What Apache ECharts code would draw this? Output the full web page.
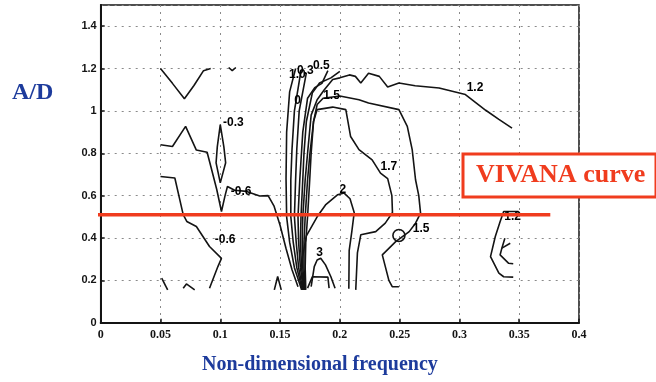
<!DOCTYPE html>
<html>
<head>
<meta charset="utf-8">
<script src="https://cdn.jsdelivr.net/npm/echarts@6/dist/echarts.min.js"></script>
<style>
  html, body { margin: 0; padding: 0; background: #fff; }
  #chart { width: 656px; height: 382px; }
</style>
</head>
<body>
<div id="chart"></div>
<script>
// Axis ranges and tick spacing
const xRange = [0, 0.4];
const xStep = 0.05;
const yRange = [0, 1.5];
const yStep = 0.2;

// Contour lines of the lift coefficient, as [frequency, A/D] pairs
const cTopLeftV = [[0.05,1.2],[0.06,1.13],[0.07,1.057],[0.078,1.12],[0.086,1.19],[0.092,1.2]];
const cTopTick = [[0.107,1.205],[0.11,1.19],[0.113,1.205]];
const cMinus03 = [[0.05,0.84],[0.06,0.832],[0.071,0.927],[0.08,0.815],[0.089,0.805],[0.092,0.74],[0.097,0.63],[0.101,0.525],[0.104,0.6],[0.106,0.643],[0.112,0.625],[0.122,0.62],[0.133,0.598],[0.14,0.6],[0.145,0.55],[0.15,0.46],[0.155,0.35],[0.16,0.25],[0.165,0.17]];
const cSpindle = [[0.1,0.935],[0.0975,0.83],[0.0965,0.755],[0.1,0.66],[0.1045,0.755],[0.103,0.83],[0.1,0.935]];
const cMinus06 = [[0.05,0.69],[0.062,0.683],[0.069,0.51],[0.072,0.478],[0.08,0.454],[0.091,0.36],[0.101,0.304],[0.098,0.265],[0.091,0.163]];
const cTickA = [[0.051,0.21],[0.056,0.155]];
const cTickB = [[0.069,0.163],[0.0717,0.183],[0.0786,0.155]];
const cTickC = [[0.1452,0.155],[0.148,0.218],[0.151,0.155]];
const cBand1 = [[0.163,1.2],[0.158,1.09],[0.1555,0.9],[0.155,0.68],[0.1555,0.5],[0.158,0.38],[0.162,0.26],[0.168,0.155]];
const cBand2 = [[0.1675,1.19],[0.162,1.0],[0.16,0.82],[0.159,0.675],[0.159,0.5],[0.161,0.38],[0.164,0.26],[0.1685,0.155]];
const cBand3 = [[0.172,1.18],[0.166,1.0],[0.164,0.82],[0.163,0.675],[0.162,0.5],[0.1635,0.38],[0.1655,0.26],[0.169,0.155]];
const cBand05 = [[0.19,1.19],[0.185,1.13],[0.179,1.11],[0.173,1.06],[0.169,0.9],[0.1665,0.675],[0.165,0.5],[0.1655,0.38],[0.167,0.26],[0.1695,0.155]];
const cBand5 = [[0.2,1.187],[0.1925,1.156],[0.183,1.132],[0.177,1.085],[0.172,0.95],[0.17,0.8],[0.169,0.675],[0.1675,0.5],[0.167,0.38],[0.168,0.26],[0.17,0.155]];
const cLevel12 = [[0.344,0.919],[0.333,0.96],[0.322,1.003],[0.305,1.077],[0.283,1.108],[0.263,1.119],[0.2494,1.132],[0.24,1.113],[0.233,1.163],[0.224,1.178],[0.2175,1.132],[0.213,1.163],[0.208,1.17],[0.2,1.156],[0.194,1.148],[0.187,1.1],[0.181,1.053],[0.176,0.98],[0.173,0.8],[0.171,0.675],[0.169,0.5],[0.1685,0.38],[0.169,0.26],[0.1705,0.155]];
const cLevel15 = [[0.171,0.155],[0.17,0.26],[0.17,0.38],[0.171,0.5],[0.173,0.675],[0.175,0.8],[0.178,0.95],[0.181,1.03],[0.186,1.06],[0.2,1.07],[0.216,1.053],[0.224,1.037],[0.2494,1.006],[0.2564,0.927],[0.2605,0.817],[0.2633,0.675],[0.266,0.6],[0.2675,0.517],[0.2633,0.47],[0.258,0.43],[0.2467,0.383],[0.2355,0.32],[0.241,0.2],[0.2438,0.17],[0.2494,0.17]];
const cLevel17 = [[0.1715,0.155],[0.171,0.26],[0.1715,0.38],[0.173,0.5],[0.1748,0.675],[0.176,0.8],[0.178,0.95],[0.181,1.006],[0.194,1.018],[0.205,1.006],[0.209,0.879],[0.216,0.817],[0.227,0.769],[0.234,0.706],[0.24,0.68],[0.2435,0.6],[0.244,0.52],[0.238,0.47],[0.23,0.43],[0.2175,0.415],[0.2147,0.33],[0.2133,0.155]];
const cLevel2 = [[0.1685,0.3],[0.172,0.41],[0.181,0.5],[0.188,0.556],[0.198,0.604],[0.2036,0.612],[0.2085,0.585],[0.212,0.52],[0.21,0.43],[0.2078,0.34],[0.2075,0.16]];
const cLevel3 = [[0.176,0.17],[0.1786,0.265],[0.181,0.296],[0.184,0.304],[0.188,0.273],[0.1925,0.217],[0.196,0.163]];
const cLevel3In = [[0.173,0.163],[0.177,0.217],[0.19,0.215],[0.191,0.163]];
const cRight12 = [[0.3494,0.525],[0.337,0.525],[0.334,0.477],[0.33,0.407],[0.326,0.312],[0.333,0.234],[0.337,0.217],[0.345,0.215]];
const cRightIn = [[0.338,0.399],[0.3355,0.352],[0.334,0.32],[0.341,0.281],[0.345,0.278]];
const cRightBranch = [[0.3355,0.352],[0.3425,0.375]];

const contourLines = [cTopLeftV, cTopTick, cMinus03, cSpindle, cMinus06, cTickA, cTickB, cTickC,
  cBand1, cBand2, cBand3, cBand05, cBand5, cLevel12, cLevel15, cLevel17, cLevel2, cLevel3, cLevel3In,
  cRight12, cRightIn, cRightBranch];

// Small closed loop on the 1.5 contour
const loopCentre = [[0.2494, 0.412]];

// Contour level labels and where they sit
const levelText = ['-0.3', '-0.6', '-0.6', '1.0', '0.3', '0.5', '0', '1.5', '1.2', '1.7', '2', '3', '1.5', '1.2'];
const levelPos = [[0.111,0.943],[0.1175,0.62],[0.104,0.39],[0.1645,1.17],[0.1712,1.19],[0.1845,1.215],[0.1647,1.05],[0.193,1.07],[0.313,1.108],[0.241,0.737],[0.2025,0.63],[0.183,0.33],[0.268,0.446],[0.3445,0.5]];

// Design value line (A/D = 0.51) across the frequency range
const designLine = [[-0.009, 0.51], [0.376, 0.51]];

const ink = '#141414';
const red = '#f03c1e';
const blue = '#1d3b9c';

const series = contourLines.map(pts => ({
  type: 'line',
  data: pts,
  showSymbol: false,
  symbol: 'none',
  silent: true,
  lineStyle: { color: ink, width: 1.6 },
  z: 3
}));

series.push({
  type: 'scatter',
  data: loopCentre,
  symbol: 'circle',
  symbolSize: 12,
  itemStyle: { color: 'rgba(255,255,255,0)', borderColor: ink, borderWidth: 1.6, opacity: 1 },
  silent: true,
  z: 4
});

series.push({
  type: 'scatter',
  data: levelPos.map((p, i) => ({ value: p, name: levelText[i] })),
  symbolSize: 0,
  silent: true,
  itemStyle: { opacity: 1 },
  label: {
    show: true,
    position: 'inside',
    formatter: p => p.name,
    color: '#000',
    opacity: 1,
    textBorderWidth: 0,
    fontFamily: 'Liberation Sans',
    fontWeight: 'bold',
    fontSize: 12
  },
  z: 5
});

series.push({
  type: 'line',
  data: designLine,
  showSymbol: false,
  symbol: 'none',
  clip: false,
  silent: true,
  lineStyle: { color: red, width: 3.5 },
  z: 6
});

const chart = echarts.init(document.getElementById('chart'), null, { renderer: 'canvas' });
chart.setOption({
  animation: false,
  backgroundColor: '#fff',
  grid: {
    left: 100.7, right: 77, top: 5, bottom: 59.3,
    show: true, borderColor: ink, borderWidth: 1.5
  },
  xAxis: {
    type: 'value',
    min: xRange[0], max: xRange[1], interval: xStep,
    axisLine: { show: true, onZero: false, lineStyle: { color: ink, width: 2 } },
    axisTick: { show: true, inside: true, length: 4, lineStyle: { color: ink, width: 1.5 } },
    axisLabel: { color: ink, fontFamily: 'Liberation Serif', fontWeight: 'bold', fontSize: 12, margin: 6 },
    splitLine: { show: true, lineStyle: { color: '#8a8a8a', type: [2, 5], width: 1 } }
  },
  yAxis: {
    type: 'value',
    min: yRange[0], max: yRange[1], interval: yStep,
    axisLine: { show: true, onZero: false, lineStyle: { color: ink, width: 2 } },
    axisTick: { show: true, inside: true, length: 4, lineStyle: { color: ink, width: 1.5 } },
    axisLabel: { color: ink, fontFamily: 'Liberation Sans', fontWeight: 'bold', fontSize: 11, margin: 4, showMaxLabel: false },
    splitLine: { show: true, lineStyle: { color: '#8a8a8a', type: [2, 5], width: 1 } }
  },
  graphic: [
    {
      type: 'text', left: 12, top: 81,
      style: { text: 'A/D', fill: blue, font: 'bold 24px "Liberation Serif"' }
    },
    {
      type: 'text', left: 202, top: 355,
      style: { text: 'Non-dimensional frequency', fill: blue, font: 'bold 20px "Liberation Serif"' }
    },
    {
      type: 'rect', z: 10,
      shape: { x: 463, y: 154, width: 193, height: 43 },
      style: { fill: '#fff', stroke: red, lineWidth: 3 }
    },
    {
      type: 'text', z: 11, left: 476, top: 162,
      style: { text: 'VIVANA curve', fill: red, font: 'bold 26px "Liberation Serif"' }
    }
  ],
  series: series
});
</script>
</body>
</html>
